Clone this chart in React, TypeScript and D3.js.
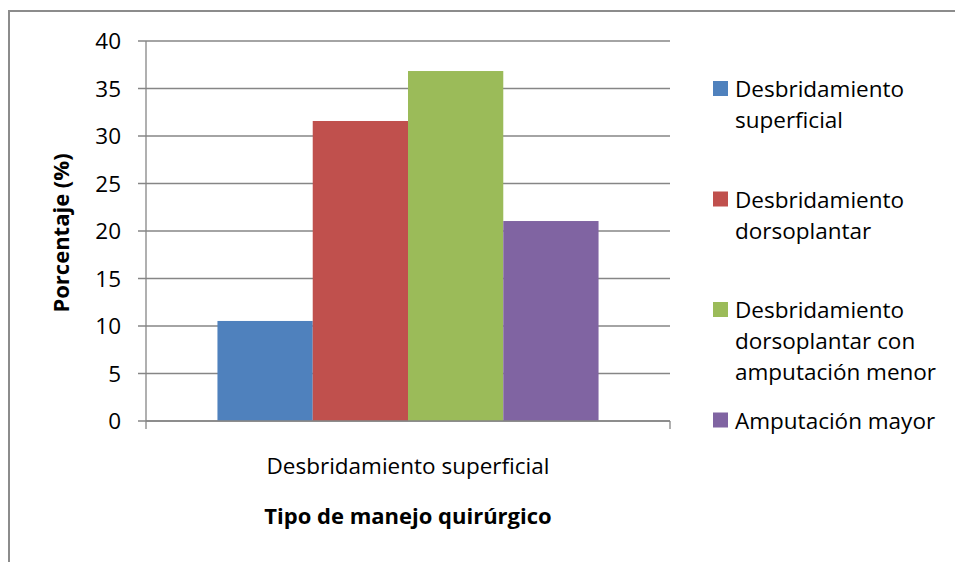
import React from "react";
import * as d3 from "d3";

// Chart data
const categories = ["Desbridamiento superficial"];
const seriesNames = [
  "Desbridamiento superficial",
  "Desbridamiento dorsoplantar",
  "Desbridamiento dorsoplantar con amputación menor",
  "Amputación mayor",
];
const seriesValues = [10.53, 31.58, 36.84, 21.05];
const seriesColors = ["#4F81BD", "#C0504D", "#9BBB59", "#8064A2"];
const legendLines = [
  ["Desbridamiento", "superficial"],
  ["Desbridamiento", "dorsoplantar"],
  ["Desbridamiento", "dorsoplantar con", "amputación menor"],
  ["Amputación mayor"],
];
const yTicks = [0, 5, 10, 15, 20, 25, 30, 35, 40];
const yTitle = "Porcentaje (%)";
const xTitle = "Tipo de manejo quirúrgico";

const W = 955;
const H = 562;
const FONT = "'Open Sans', 'Noto Sans', sans-serif";
const FS = 22.5;
const FS_BOLD = 22;
const GRID = "#868686";

export default function App() {
  const left = 146;
  const right = 670;
  const top = 41;
  const bottom = 421;

  const x0 = d3.scaleBand<string>().domain(categories).range([left, right]).padding(0);
  const x1 = d3
    .scaleBand<string>()
    .domain(seriesNames)
    .range([0, x0.bandwidth()])
    .paddingInner(0)
    .paddingOuter(0.75);
  const y = d3.scaleLinear().domain([0, 40]).range([bottom, top]);

  const legendX = 713;
  const legendTop = 97;
  const legendSlot = 110.5;
  const lineH = 31;

  return (
    <svg
      width={W}
      height={H}
      viewBox={`0 0 ${W} ${H}`}
      style={{ position: "absolute", left: 0, top: 0, background: "#fff" }}
      fontFamily={FONT}
    >
      <rect x={0} y={0} width={W} height={H} fill="#fff" />
      {/* chart frame (extends past the right and bottom edges) */}
      <rect x={9} y={11} width={W + 20} height={H + 20} fill="none" stroke="#8C8C8C" strokeWidth={2} />

      {/* gridlines and y ticks */}
      {yTicks.map((t) => (
        <g key={t}>
          <line x1={left - 8} x2={right} y1={y(t)} y2={y(t)} stroke={GRID} strokeWidth={1.3} />
          <text x={121} y={y(t)} dy="0.36em" textAnchor="end" fontSize={FS} fill="#000">
            {t}
          </text>
        </g>
      ))}

      {/* bars */}
      {categories.map((c) => (
        <g key={c} transform={`translate(${x0(c)},0)`}>
          {seriesNames.map((s, i) => (
            <rect
              key={s}
              x={x1(s)}
              y={y(seriesValues[i])}
              width={x1.bandwidth()}
              height={y(0) - y(seriesValues[i])}
              fill={seriesColors[i]}
            />
          ))}
        </g>
      ))}

      {/* axes */}
      <line x1={left} x2={left} y1={top} y2={bottom} stroke={GRID} strokeWidth={1.3} />
      <line x1={left} x2={right} y1={bottom} y2={bottom} stroke={GRID} strokeWidth={1.3} />
      {[left, right].map((xx) => (
        <line key={xx} x1={xx} x2={xx} y1={bottom} y2={bottom + 8} stroke={GRID} strokeWidth={1.3} />
      ))}

      {/* category label */}
      {categories.map((c) => (
        <text
          key={c}
          x={(x0(c) as number) + x0.bandwidth() / 2}
          y={474}
          textAnchor="middle"
          fontSize={FS}
          fill="#000"
        >
          {c}
        </text>
      ))}

      {/* axis titles */}
      <text
        x={(left + right) / 2}
        y={524}
        textAnchor="middle"
        fontSize={FS_BOLD}
        fontWeight="bold"
        fill="#000"
      >
        {xTitle}
      </text>
      <text
        transform={`translate(69, ${(top + bottom) / 2 + 2}) rotate(-90)`}
        textAnchor="middle"
        fontSize={FS_BOLD}
        fontWeight="bold"
        fill="#000"
      >
        {yTitle}
      </text>

      {/* legend */}
      {legendLines.map((lines, i) => {
        const base = legendTop + i * legendSlot;
        return (
          <g key={i}>
            <rect x={legendX} y={base - 16} width={15} height={15} fill={seriesColors[i]} />
            <text x={legendX + 22} y={base} fontSize={FS} fill="#000">
              {lines.map((ln, j) => (
                <tspan key={j} x={legendX + 22} y={base + j * lineH}>
                  {ln}
                </tspan>
              ))}
            </text>
          </g>
        );
      })}
    </svg>
  );
}
